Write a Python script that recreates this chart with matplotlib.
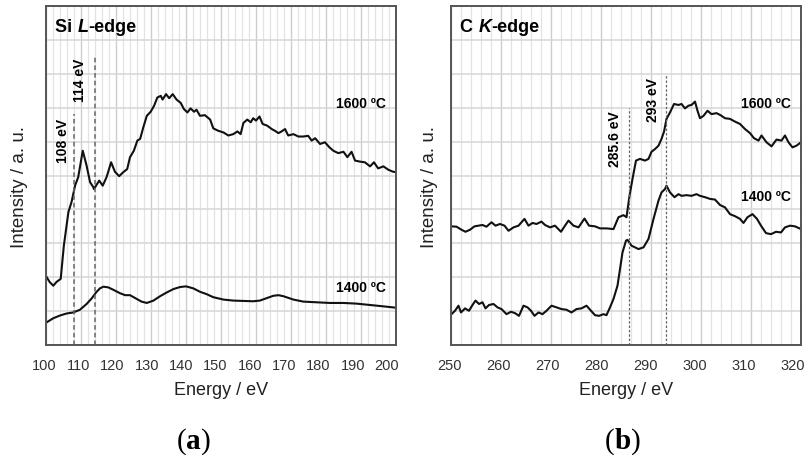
import matplotlib
matplotlib.use("Agg")
import matplotlib.pyplot as plt
import numpy as np

plt.rcParams['font.family'] = ['Liberation Sans', 'DejaVu Sans']

# ---------------- data: Si L-edge ----------------
si_1600_e = [100.2, 101.1, 102.1, 103.0, 104.2, 105.1, 106.4, 107.3, 108.3, 109.2, 110.5,
             111.6, 112.6, 113.5, 113.7, 115.2, 116.2, 117.3, 118.6, 119.7, 120.9, 122.1,
             123.2, 124.0, 125.1, 126.1, 126.9, 127.8, 128.8, 129.9, 130.9, 131.8, 132.8,
             133.3, 134.3, 135.2, 136.2, 137.3, 138.5, 139.4, 140.4, 141.3, 142.3, 143.0,
             144.0, 145.4, 146.9, 147.8, 149.2, 150.7, 152.1, 153.5, 154.7, 155.6, 156.4,
             157.5, 158.5, 159.2, 160.0, 161.0, 161.9, 163.2, 164.5, 165.4, 166.4, 167.3,
             168.3, 169.2, 170.7, 172.1, 173.5, 174.9, 175.9, 176.9, 178.3, 179.7, 181.0,
             182.1, 183.5, 185.0, 186.1, 187.3, 188.3, 189.7, 191.1, 192.6, 193.7, 194.9,
             196.4, 197.8, 199.2, 200.0]
si_1600_i = [2.00, 1.85, 1.75, 1.86, 1.95, 2.93, 3.92, 4.22, 4.70, 4.95, 5.73,
             5.29, 4.80, 4.66, 4.60, 4.85, 4.70, 4.95, 5.39, 5.11, 4.98, 5.10,
             5.19, 5.54, 5.73, 6.03, 6.08, 6.42, 6.76, 6.88, 7.06, 7.30, 7.35,
             7.24, 7.40, 7.28, 7.40, 7.24, 7.14, 6.96, 6.86, 6.98, 6.88, 6.94,
             6.76, 6.78, 6.65, 6.39, 6.32, 6.27, 6.18, 6.22, 6.30, 6.22, 6.55,
             6.65, 6.57, 6.69, 6.62, 6.74, 6.52, 6.47, 6.37, 6.32, 6.25, 6.30,
             6.37, 6.18, 6.22, 6.15, 6.15, 6.17, 6.03, 6.10, 5.93, 5.98, 5.83,
             5.73, 5.66, 5.70, 5.54, 5.70, 5.44, 5.41, 5.39, 5.27, 5.39, 5.21,
             5.27, 5.17, 5.11, 5.10]

si_1400_e = [100.2, 102.1, 104.0, 105.9, 107.8, 109.7, 111.6, 113.1, 114.3, 115.4, 116.4,
             117.8, 119.2, 121.1, 122.6, 124.0, 125.9, 127.3, 128.8, 130.7, 132.6, 134.5,
             136.4, 138.3, 140.0, 142.1, 144.0, 145.9, 147.8, 150.7, 153.5, 156.4, 159.2,
             161.1, 163.0, 164.9, 166.4, 167.8, 170.7, 173.5, 177.3, 181.1, 185.0, 188.8,
             192.6, 196.4, 200.0]
si_1400_i = [0.67, 0.79, 0.87, 0.93, 0.96, 1.04, 1.21, 1.38, 1.55, 1.67, 1.72,
             1.70, 1.63, 1.53, 1.47, 1.47, 1.36, 1.28, 1.24, 1.31, 1.44, 1.55,
             1.65, 1.71, 1.73, 1.67, 1.57, 1.50, 1.41, 1.34, 1.31, 1.30, 1.29,
             1.31, 1.38, 1.45, 1.47, 1.44, 1.34, 1.28, 1.26, 1.24, 1.24, 1.22,
             1.18, 1.14, 1.10]

# ---------------- data: C K-edge ----------------
c_1600_e = [250.1, 251.1, 252.1, 252.9, 253.8, 254.7, 255.5, 256.3, 257.1, 258.1, 258.9,
            259.8, 260.7, 261.5, 262.5, 263.5, 264.7, 265.5, 266.3, 267.1, 268.1, 268.8,
            269.8, 270.8, 272.0, 272.8, 273.5, 274.5, 275.5, 276.7, 277.6, 278.8, 279.8,
            281.1, 282.5, 283.5, 284.5, 285.1, 285.7, 286.3, 287.0, 287.8, 288.8, 289.5,
            290.1, 290.8, 291.5, 292.1, 292.6, 293.1, 293.8, 294.6, 295.5, 296.1, 296.8,
            297.5, 298.1, 298.8, 299.3, 299.8, 300.5, 301.3, 302.1, 303.1, 303.9, 304.8,
            305.8, 306.8, 307.8, 308.8, 309.8, 310.6, 311.5, 312.1, 313.1, 314.1, 315.1,
            316.1, 316.8, 317.5, 318.3, 319.1, 320.0]
c_1600_i = [3.50, 3.49, 3.40, 3.34, 3.40, 3.50, 3.52, 3.54, 3.49, 3.62, 3.52,
            3.57, 3.52, 3.37, 3.47, 3.52, 3.72, 3.52, 3.60, 3.57, 3.64, 3.54,
            3.47, 3.52, 3.34, 3.52, 3.67, 3.52, 3.47, 3.73, 3.52, 3.50, 3.44,
            3.44, 3.42, 3.77, 3.83, 3.77, 4.40, 4.90, 5.44, 5.49, 5.44, 5.49,
            5.70, 5.78, 5.88, 6.08, 6.29, 6.67, 6.86, 7.11, 7.08, 7.11, 6.98,
            7.06, 7.08, 7.18, 6.91, 6.69, 6.76, 6.91, 6.81, 6.84, 6.78, 6.69,
            6.67, 6.59, 6.52, 6.37, 6.25, 6.10, 6.03, 6.18, 5.98, 5.86, 6.06,
            6.03, 6.18, 5.98, 5.83, 5.88, 5.98]

c_1400_e = [250.1, 250.8, 251.5, 252.0, 252.8, 253.6, 254.3, 254.9, 255.6, 256.3, 256.9,
            257.6, 258.5, 259.3, 260.1, 261.1, 262.0, 262.8, 263.6, 264.5, 265.3, 266.0,
            266.7, 267.5, 268.3, 269.1, 270.1, 271.1, 272.1, 273.1, 274.1, 275.1, 276.1,
            277.1, 278.0, 278.8, 279.6, 280.5, 281.1, 281.8, 282.5, 283.3, 283.8, 284.3,
            285.0, 285.3, 286.1, 287.5, 288.5, 289.5, 290.5, 291.5, 292.1, 292.8, 293.1,
            293.8, 294.7, 295.5, 296.1, 297.1, 298.1, 299.1, 299.8, 300.8, 301.8, 302.8,
            303.8, 304.8, 305.8, 306.8, 307.8, 308.5, 309.3, 310.3, 311.2, 312.0, 313.0,
            314.0, 315.0, 316.0, 316.8, 317.8, 318.8, 320.0]
c_1400_i = [0.91, 1.01, 1.16, 0.96, 1.08, 1.01, 1.18, 1.31, 1.21, 1.26, 1.08,
            1.18, 1.21, 1.11, 1.06, 0.91, 0.98, 0.94, 0.86, 1.16, 1.11, 1.01,
            0.86, 0.96, 0.91, 1.01, 1.16, 1.11, 1.06, 1.04, 0.96, 1.06, 1.08,
            1.16, 1.01, 0.88, 0.86, 0.91, 0.88, 1.11, 1.36, 1.75, 2.24, 2.73,
            3.08, 3.10, 2.93, 2.83, 2.88, 3.13, 3.72, 4.26, 4.50, 4.60, 4.70,
            4.50, 4.36, 4.45, 4.40, 4.42, 4.40, 4.45, 4.40, 4.36, 4.31, 4.29,
            4.13, 4.06, 3.86, 3.80, 3.72, 3.60, 3.77, 3.86, 3.72, 3.52, 3.30,
            3.27, 3.34, 3.32, 3.47, 3.52, 3.50, 3.42]

si_ticks = [100, 110, 120, 130, 140, 150, 160, 170, 180, 190, 200]
c_ticks = [250, 260, 270, 280, 290, 300, 310, 320]
si_marks = [108, 114]
c_marks = [285.6, 293]

# ---------------- figure ----------------
fig = plt.figure(figsize=(8.11, 4.56), dpi=100)
axL = fig.add_axes([46/811, 1-346/456, 350/811, 339/456])
axR = fig.add_axes([451/811, 1-346/456, 350/811, 339/456])

def style(ax, ticks, px_shift0, px_shift_step):
    xmin, xmax = ticks[0], ticks[-1]
    ax.set_xlim(xmin, xmax)
    ax.set_ylim(0, 10)
    ax.set_xticks(ticks)
    ax.set_xticks(np.arange(xmin, xmax + 0.1, 2), minor=True)
    ax.set_yticks(np.arange(0, 11, 1))
    ax.grid(which='major', axis='x', color='#cccccc', lw=1.0)
    ax.grid(which='minor', axis='x', color='#e3e3e3', lw=0.9)
    ax.grid(which='major', axis='y', color='#d6d6d6', lw=1.1)
    ax.set_axisbelow(True)
    ax.tick_params(axis='y', which='both', length=0, labelleft=False)
    ax.tick_params(axis='x', which='both', length=0, labelbottom=False)
    for s in ax.spines.values():
        s.set_color('#555555')
        s.set_linewidth(1.4)
    # tick labels (slightly compressed spacing, as in the original)
    eV_per_px = (xmax - xmin) / 350.0
    for k, t in enumerate(ticks):
        xpos = t + (px_shift0 + px_shift_step * k) * eV_per_px
        ax.text(xpos, -0.06, str(t), transform=ax.get_xaxis_transform(),
                ha='center', va='center', fontsize=10.5, color='#333333')
    ax.set_xlabel('Energy / eV', fontsize=13, color='#222222')
    ax.xaxis.set_label_coords(0.5, -0.105)
    ax.xaxis.label.set_va('top')
    ax.set_ylabel('Intensity / a. u.', fontsize=13.5, color='#222222')

style(axL, si_ticks, -2.0, -0.7)
style(axR, c_ticks, -1.0, -1.1)
axL.yaxis.set_label_coords(-0.05, 0.47)
axR.yaxis.set_label_coords(-0.036, 0.47)

lc = '#111111'
axL.plot(si_1600_e, si_1600_i, color=lc, lw=1.5)
axL.plot(si_1400_e, si_1400_i, color=lc, lw=1.5)
axR.plot(c_1600_e, c_1600_i, color=lc, lw=1.5)
axR.plot(c_1400_e, c_1400_i, color=lc, lw=1.5)

# marker lines
axL.vlines(si_marks[0], 0, 6.8, colors='#666666', linestyles=(0, (3, 2)), lw=1.1)
axL.vlines(si_marks[1], 0, 8.5, colors='#666666', linestyles=(0, (3, 2)), lw=1.1)
axR.vlines(c_marks[0], 0, 7.0, colors='#666666', linestyles=(0, (2, 1.5)), lw=0.9)
axR.vlines(c_marks[1], 0, 8.0, colors='#666666', linestyles=(0, (2, 1.5)), lw=0.9)

fs = 10
axL.text(104.9, 6.05, '108 eV', rotation=90, ha='center', va='center', fontsize=fs, fontweight='bold')
axL.text(109.7, 7.85, '114 eV', rotation=90, ha='center', va='center', fontsize=fs, fontweight='bold')
axR.text(282.8, 6.09, '285.6 eV', rotation=90, ha='center', va='center', fontsize=fs, fontweight='bold')
axR.text(290.4, 7.27, '293 eV', rotation=90, ha='center', va='center', fontsize=fs, fontweight='bold')

axL.text(197.0, 7.14, '1600 \u00baC', ha='right', va='center', fontsize=fs, fontweight='bold')
axL.text(197.0, 1.71, '1400 \u00baC', ha='right', va='center', fontsize=fs, fontweight='bold')
axR.text(318.0, 7.14, '1600 \u00baC', ha='right', va='center', fontsize=fs, fontweight='bold')
axR.text(318.0, 4.40, '1400 \u00baC', ha='right', va='center', fontsize=fs, fontweight='bold')

def edge_title(ax, a, b, c):
    t1 = ax.text(0.027, 0.940, a, transform=ax.transAxes, ha='left', va='center',
                 fontsize=13, fontweight='bold')
    t2 = ax.annotate(b, xy=(1, 0), xycoords=t1, ha='left', va='bottom',
                     fontsize=13, fontweight='bold', fontstyle='italic')
    ax.annotate(c, xy=(1, 0), xycoords=t2, ha='left', va='bottom',
                fontsize=13, fontweight='bold')

edge_title(axL, 'Si ', 'L', '-edge')
edge_title(axR, 'C ', 'K', '-edge')

# captions
for xc, letter in [(195, 'a'), (623, 'b')]:
    t1 = fig.text((xc - 18.5) / 811, 1 - 442 / 456, '(', ha='left', va='center',
                  fontsize=21, family='Liberation Serif')
    lab = plt.annotate(letter, xy=(1, 0), xycoords=t1, ha='left', va='bottom', fontsize=21,
                       family='Liberation Serif', fontweight='bold', annotation_clip=False)
    plt.annotate(')', xy=(1, 0), xycoords=lab, ha='left', va='bottom', fontsize=21,
                 family='Liberation Serif', annotation_clip=False)

fig.savefig('out.png', dpi=100)
